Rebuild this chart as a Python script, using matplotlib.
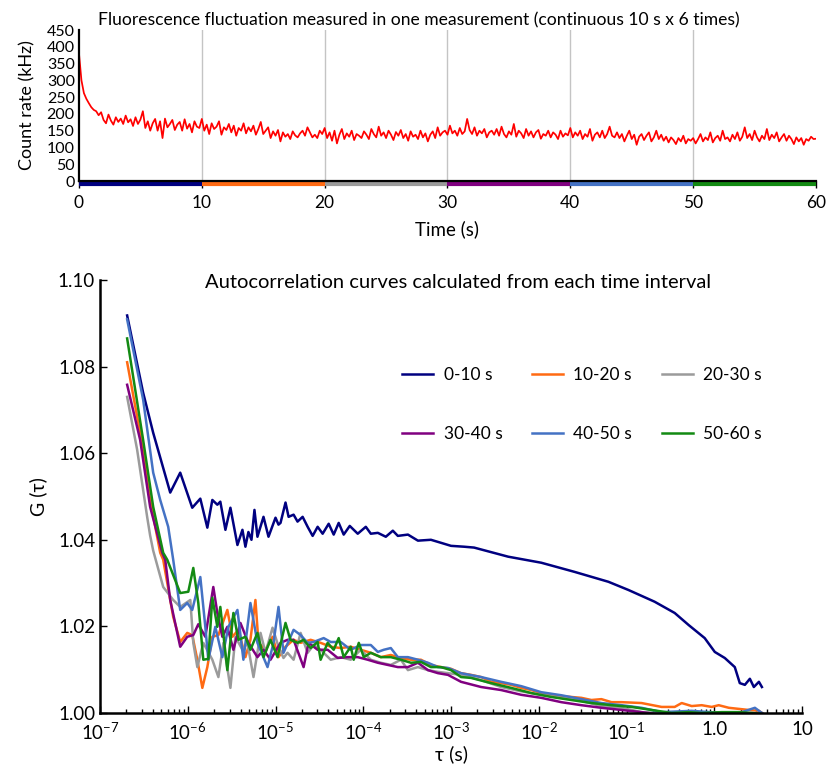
import matplotlib
matplotlib.use("Agg")
import matplotlib.pyplot as plt
import matplotlib.transforms as mtransforms
from matplotlib.ticker import FixedLocator, LogLocator, NullFormatter, FuncFormatter
import numpy as np

plt.rcParams["font.family"] = ["Lato", "DejaVu Sans"]
plt.rcParams["mathtext.fontset"] = "custom"
plt.rcParams["mathtext.rm"] = "Lato"
plt.rcParams["mathtext.it"] = "Lato:italic"

# ---- top panel: count rate trace, one sample every 0.2 s ----
SAMPLE_DT = 0.2
count_rate = [
    # 0-10 s
    380, 300, 262, 245, 232, 220, 212, 208, 196, 205,
    182, 172, 198, 180, 168, 190, 176, 186, 170, 195,
    175, 184, 164, 190, 170, 183, 208, 158, 178, 150,
    172, 185, 150, 178, 128, 186, 160, 170, 182, 152,
    168, 176, 150, 184, 156, 170, 145, 178, 162, 158,
    # 10-20 s
    185, 150, 168, 140, 172, 155, 162, 178, 138, 160,
    152, 170, 145, 165, 135, 158, 150, 172, 142, 160,
    148, 165, 138, 155, 176, 140, 150, 160, 128, 148,
    135, 152, 118, 145, 132, 140, 125, 148, 136, 130,
    142, 150, 135, 160, 145, 130, 138, 128, 150, 140,
    # 20-30 s
    158, 128, 145, 120, 150, 112, 138, 155, 125, 142,
    132, 150, 122, 140, 135, 128, 148, 138, 125, 155,
    140, 130, 162, 135, 145, 128, 150, 138, 122, 146,
    135, 152, 128, 140, 120, 148, 132, 138, 125, 150,
    130, 142, 118, 138, 148, 128, 160, 135, 145, 150,
    # 30-40 s
    138, 165, 142, 150, 135, 158, 140, 148, 185, 152,
    140, 160, 135, 150, 142, 155, 130, 145, 150, 138,
    155, 135, 162, 140, 130, 148, 138, 170, 132, 150,
    142, 128, 155, 135, 148, 130, 145, 152, 126, 140,
    135, 150, 130, 145, 138, 125, 150, 132, 142, 136,
    # 40-50 s
    158, 130, 145, 135, 150, 125, 140, 132, 155, 120,
    138, 145, 130, 150, 128, 140, 162, 135, 130, 145,
    128, 140, 118, 135, 150, 125, 138, 108, 132, 140,
    122, 135, 145, 118, 130, 150, 125, 138, 120, 132,
    115, 130, 122, 110, 128, 118, 135, 112, 125, 120,
    # 50-60 s
    128, 112, 125, 140, 118, 130, 122, 145, 115, 128,
    135, 120, 150, 125, 130, 118, 138, 125, 145, 120,
    132, 160, 128, 140, 122, 150, 130, 118, 135, 125,
    155, 122, 138, 128, 145, 118, 130, 140, 120, 135,
    125, 110, 130, 118, 128, 108, 125, 120, 132, 125,
    126,
]

segment_starts = [0, 10, 20, 30, 40, 50]
SEGMENT_LEN = 10
segment_labels = ["0-10 s", "10-20 s", "20-30 s", "30-40 s", "40-50 s", "50-60 s"]
segment_colors = ["#000080", "#FF6A13", "#9B9B9B", "#800080", "#4472C4", "#138A13"]

# ---- bottom panel: autocorrelation curves (log10 tau, G) ----
logtau_0_10 = [-6.691, -6.509, -6.394, -6.2, -6.086, -5.949, -5.857, -5.777, -5.72, -5.663,
               -5.629, -5.571, -5.514, -5.434, -5.377, -5.343, -5.309, -5.274, -5.24, -5.206,
               -5.137, -5.08, -5.0, -4.966, -4.943, -4.886, -4.851, -4.794, -4.749, -4.691,
               -4.634, -4.577, -4.52, -4.463, -4.394, -4.337, -4.28, -4.223, -4.154, -4.063,
               -3.971, -3.914, -3.834, -3.743, -3.663, -3.606, -3.491, -3.377, -3.229, -3.114,
               -3.0, -2.851, -2.737, -2.349, -1.971, -1.594, -1.206, -0.977, -0.68, -0.451,
               -0.291, -0.109, 0.006, 0.12, 0.234, 0.291, 0.349, 0.406, 0.451, 0.509, 0.543]
g_0_10 = [1.0918, 1.074, 1.0647, 1.0509, 1.0555, 1.0474, 1.0495, 1.0428, 1.0492, 1.0481,
          1.0488, 1.0423, 1.0474, 1.0388, 1.0423, 1.0384, 1.0418, 1.04, 1.0469, 1.0407,
          1.0453, 1.0407, 1.0451, 1.0435, 1.0439, 1.0486, 1.0453, 1.0458, 1.0442, 1.0453,
          1.043, 1.0409, 1.043, 1.0414, 1.0437, 1.0412, 1.0439, 1.0412, 1.0432, 1.0414,
          1.043, 1.0414, 1.0416, 1.0407, 1.0421, 1.0409, 1.0412, 1.0398, 1.04, 1.0393,
          1.0386, 1.0384, 1.0382, 1.0361, 1.0347, 1.0326, 1.0303, 1.0284, 1.0257, 1.0231,
          1.0203, 1.0173, 1.0141, 1.0127, 1.0106, 1.0069, 1.0065, 1.0079, 1.006, 1.0072, 1.006]

logtau_10_20 = [-6.691, -6.543, -6.429, -6.314, -6.28, -6.166, -6.086, -6.006, -5.949, -5.891,
                -5.834, -5.777, -5.72, -5.651, -5.549, -5.491, -5.423, -5.343, -5.286, -5.229,
                -5.194, -5.114, -5.034, -4.966, -4.886, -4.794, -4.714, -4.6, -4.486, -4.371,
                -4.257, -4.143, -4.029, -3.914, -3.8, -3.686, -3.571, -3.457, -3.343, -3.229,
                -3.114, -3.0, -2.886, -2.771, -2.657, -2.543, -2.429, -2.314, -2.2, -2.086,
                -1.971, -1.857, -1.743, -1.629, -1.514, -1.4, -1.286, -1.171, -1.057, -0.829,
                -0.6, -0.451, -0.371, -0.257, -0.143, -0.029, 0.051, 0.166, 0.394, 0.509, 0.543]
g_10_20 = [1.081, 1.0647, 1.0492, 1.037, 1.0354, 1.0222, 1.0164, 1.0185, 1.018, 1.0123,
           1.0058, 1.0106, 1.0176, 1.018, 1.0238, 1.0176, 1.0192, 1.0129, 1.0169, 1.0261,
           1.0162, 1.0146, 1.0176, 1.0129, 1.0153, 1.0169, 1.0162, 1.0169, 1.0162, 1.0153,
           1.015, 1.0153, 1.0146, 1.0139, 1.0129, 1.0134, 1.0127, 1.0123, 1.0123, 1.0111,
           1.0106, 1.0102, 1.0092, 1.0088, 1.0083, 1.0072, 1.0069, 1.0065, 1.0058, 1.0053,
           1.0046, 1.0042, 1.0039, 1.0037, 1.0035, 1.003, 1.0032, 1.0025, 1.0025, 1.0023,
           1.0014, 1.0014, 1.0023, 1.0016, 1.0018, 1.0014, 1.0018, 1.0012, 1.0007, 1.0005, 1.0]

logtau_20_30 = [-6.691, -6.577, -6.463, -6.429, -6.394, -6.28, -6.166, -6.086, -5.971, -5.937,
                -5.891, -5.823, -5.72, -5.651, -5.594, -5.514, -5.457, -5.377, -5.32, -5.251,
                -5.171, -5.114, -5.034, -4.966, -4.909, -4.863, -4.794, -4.714, -4.634, -4.566,
                -4.486, -4.371, -4.257, -4.143, -4.029, -3.914, -3.8, -3.686, -3.571, -3.491,
                -3.377, -3.263, -3.149, -3.034, -2.886, -2.657, -2.429, -2.2, -1.971, -1.743,
                -1.514, -1.286, -1.057, -0.829, -0.6, -0.143, 0.314, 0.543]
g_20_30 = [1.073, 1.0608, 1.0453, 1.041, 1.0375, 1.0291, 1.0261, 1.0245, 1.0261, 1.0162,
           1.0106, 1.0162, 1.0123, 1.0083, 1.0162, 1.0058, 1.0176, 1.0146, 1.0162, 1.0083,
           1.0185, 1.0139, 1.0197, 1.0153, 1.0127, 1.0139, 1.0123, 1.0185, 1.0139, 1.0157,
           1.0146, 1.0123, 1.0129, 1.0123, 1.0146, 1.0123, 1.0116, 1.0111, 1.0123, 1.0099,
           1.0106, 1.0099, 1.0095, 1.0092, 1.0088, 1.0076, 1.006, 1.005, 1.0042, 1.0035,
           1.0028, 1.0016, 1.0012, 1.0002, 1.0, 1.0, 1.0, 1.0]

logtau_30_40 = [-6.691, -6.543, -6.429, -6.291, -6.257, -6.2, -6.086, -6.006, -5.937, -5.88,
                -5.8, -5.709, -5.663, -5.606, -5.549, -5.48, -5.4, -5.309, -5.206, -5.137,
                -5.057, -4.943, -4.863, -4.794, -4.68, -4.623, -4.52, -4.406, -4.291, -4.177,
                -4.063, -3.949, -3.834, -3.72, -3.606, -3.491, -3.377, -3.263, -3.149, -3.034,
                -2.886, -2.657, -2.429, -2.2, -1.971, -1.743, -1.514, -1.286, -1.057, -0.829,
                -0.68, -0.371, 0.086, 0.543]
g_30_40 = [1.0758, 1.0631, 1.0476, 1.037, 1.0354, 1.0261, 1.0153, 1.0176, 1.018, 1.0205,
           1.0176, 1.0291, 1.0231, 1.0176, 1.0199, 1.0146, 1.0208, 1.0162, 1.0129, 1.0146,
           1.0123, 1.0162, 1.0169, 1.0169, 1.0106, 1.0162, 1.0146, 1.0146, 1.0127, 1.0129,
           1.0129, 1.0123, 1.0116, 1.0111, 1.0106, 1.0106, 1.0116, 1.0099, 1.0092, 1.0088,
           1.0072, 1.006, 1.0053, 1.0042, 1.0035, 1.0025, 1.0018, 1.0012, 1.0007, 1.0002,
           0.9998, 0.9998, 0.9998, 0.9998]

logtau_40_50 = [-6.691, -6.509, -6.394, -6.314, -6.223, -6.166, -6.086, -6.006, -5.949, -5.857,
                -5.8, -5.766, -5.686, -5.606, -5.537, -5.434, -5.366, -5.286, -5.206, -5.091,
                -5.023, -4.966, -4.909, -4.794, -4.714, -4.634, -4.566, -4.451, -4.371, -4.257,
                -4.143, -4.029, -3.914, -3.834, -3.766, -3.686, -3.606, -3.491, -3.377, -3.263,
                -3.149, -3.034, -2.886, -2.657, -2.429, -2.2, -1.971, -1.743, -1.514, -1.286,
                -1.057, -0.829, -0.6, -0.257, 0.086, 0.314, 0.463, 0.543]
g_40_50 = [1.0909, 1.0724, 1.0555, 1.0492, 1.043, 1.0354, 1.0238, 1.0254, 1.0238, 1.0314,
           1.0199, 1.0123, 1.0199, 1.0129, 1.0199, 1.0238, 1.0123, 1.0254, 1.0162, 1.0106,
           1.0162, 1.0245, 1.0139, 1.0192, 1.018, 1.0162, 1.0164, 1.0173, 1.0164, 1.0164,
           1.0146, 1.0157, 1.0157, 1.0141, 1.0146, 1.015, 1.0129, 1.0129, 1.0123, 1.0116,
           1.0106, 1.0104, 1.0092, 1.0083, 1.0072, 1.0062, 1.0048, 1.0041, 1.0032, 1.0023,
           1.0018, 1.0012, 1.0002, 1.0005, 1.0, 1.0002, 1.0012, 1.0]

logtau_50_60 = [-6.691, -6.509, -6.394, -6.28, -6.234, -6.086, -5.994, -5.937, -5.88, -5.823,
                -5.766, -5.72, -5.663, -5.629, -5.549, -5.48, -5.423, -5.343, -5.286, -5.206,
                -5.137, -5.057, -4.977, -4.886, -4.829, -4.749, -4.68, -4.6, -4.52, -4.486,
                -4.406, -4.337, -4.28, -4.223, -4.143, -4.109, -4.051, -3.994, -3.914, -3.8,
                -3.686, -3.571, -3.457, -3.343, -3.229, -3.114, -3.0, -2.886, -2.771, -2.543,
                -2.314, -2.086, -1.857, -1.629, -1.4, -1.171, -0.943, -0.714, -0.486, -0.291,
                -0.143, 0.086, 0.28, 0.429, 0.52]
g_50_60 = [1.0865, 1.0631, 1.0476, 1.037, 1.0354, 1.0277, 1.028, 1.0335, 1.0254, 1.0123,
           1.0125, 1.0266, 1.0199, 1.0245, 1.0099, 1.0231, 1.0169, 1.0176, 1.0146, 1.0185,
           1.0129, 1.0169, 1.0129, 1.0208, 1.0169, 1.0162, 1.0169, 1.015, 1.0164, 1.0123,
           1.0162, 1.0146, 1.0173, 1.0129, 1.0153, 1.0123, 1.0162, 1.0129, 1.0139, 1.0129,
           1.0129, 1.0123, 1.0116, 1.0118, 1.0106, 1.0106, 1.0099, 1.0083, 1.0081, 1.0069,
           1.0058, 1.0046, 1.0037, 1.003, 1.0023, 1.0018, 1.0014, 1.0007, 1.0, 1.0002,
           1.0, 1.0002, 1.0002, 1.0, 0.9998]

curves = [
    (logtau_0_10, g_0_10),
    (logtau_10_20, g_10_20),
    (logtau_20_30, g_20_30),
    (logtau_30_40, g_30_40),
    (logtau_40_50, g_40_50),
    (logtau_50_60, g_50_60),
]


fig = plt.figure(figsize=(8.28, 7.66), dpi=100)

# ---------------- top panel ----------------
ax1 = fig.add_axes([0.0954, 0.7637, 0.8901, 0.1971])
time_s = np.arange(len(count_rate)) * SAMPLE_DT
ax1.plot(time_s, count_rate, color="#FF0000", lw=1.25)
ax1.set_xlim(0, 60)
ax1.set_ylim(0, 450)
ax1.set_yticks(range(0, 451, 50))
ax1.set_xticks(range(0, 61, 10))
for s in segment_starts[1:]:
    ax1.axvline(s, color="#c4c4c4", lw=1.0, zorder=0)
for side in ["top", "right"]:
    ax1.spines[side].set_visible(False)
ax1.spines["left"].set_linewidth(1.6)
ax1.spines["bottom"].set_linewidth(1.6)
ax1.tick_params(axis="y", length=0, labelsize=11.5, pad=3)
ax1.tick_params(axis="x", length=5, width=1, direction="out", labelsize=12.5, pad=5)
blend = mtransforms.blended_transform_factory(ax1.transData, ax1.transAxes)
for s, c in zip(segment_starts, segment_colors):
    ax1.plot([s, s + SEGMENT_LEN], [-0.022, -0.022], transform=blend, color=c,
             lw=3.0, solid_capstyle="butt", clip_on=False)
ax1.set_ylabel("Count rate (kHz)", fontsize=13, labelpad=8)
ax1.set_xlabel("Time (s)", fontsize=13.5, labelpad=7)
fig.text(0.506, 0.974, "Fluorescence fluctuation measured in one measurement (continuous 10 s x 6 times)",
         ha="center", va="center", fontsize=12.6)

# ---------------- bottom panel ----------------
ax2 = fig.add_axes([0.1208, 0.0692, 0.8478, 0.5653])
handles = []
for (lt, g), lab, c in zip(curves, segment_labels, segment_colors):
    h, = ax2.plot(10 ** np.array(lt), g, color=c, lw=1.8, label=lab, solid_joinstyle="round")
    handles.append(h)
ax2.set_xscale("log")
ax2.set_xlim(1e-7, 10)
ax2.set_ylim(1.0, 1.10)
ax2.set_yticks([1.00, 1.02, 1.04, 1.06, 1.08, 1.10])
ax2.yaxis.set_major_formatter(FuncFormatter(lambda v, p: f"{v:.2f}"))
decades = [1e-7, 1e-6, 1e-5, 1e-4, 1e-3, 1e-2, 1e-1, 1.0, 10.0]
ax2.xaxis.set_major_locator(FixedLocator(decades))
ax2.xaxis.set_minor_locator(LogLocator(base=10, subs=np.arange(2, 10), numticks=20))
ax2.xaxis.set_minor_formatter(NullFormatter())


def fmt_tau(v, pos):
    if v >= 10:
        return "10"
    if v >= 1:
        return "1.0"
    return r"$10^{%d}$" % round(np.log10(v))


ax2.xaxis.set_major_formatter(FuncFormatter(fmt_tau))
for side in ["top", "right"]:
    ax2.spines[side].set_visible(False)
ax2.spines["left"].set_linewidth(1.8)
ax2.spines["bottom"].set_linewidth(1.8)
ax2.tick_params(axis="both", which="major", direction="in", length=5, width=1, labelsize=13.5)
ax2.tick_params(axis="x", which="minor", direction="in", length=3, width=1)
ax2.tick_params(axis="x", which="major", pad=6)
ax2.set_ylabel("G (\u03c4)", fontsize=14, labelpad=8)
ax2.set_xlabel("\u03c4 (s)", fontsize=14, labelpad=2)
ax2.text(0.51, 0.995, "Autocorrelation curves calculated from each time interval",
         transform=ax2.transAxes, ha="center", va="center", fontsize=14.5)

order = [0, 3, 1, 4, 2, 5]
ax2.legend([handles[i] for i in order], [segment_labels[i] for i in order], ncol=3,
           loc="upper left", bbox_to_anchor=(0.43, 0.80), frameon=False, fontsize=12.5,
           handlelength=1.8, handletextpad=0.6, columnspacing=1.7, labelspacing=2.5,
           borderpad=0, borderaxespad=0)

fig.savefig("out.png", dpi=100)
